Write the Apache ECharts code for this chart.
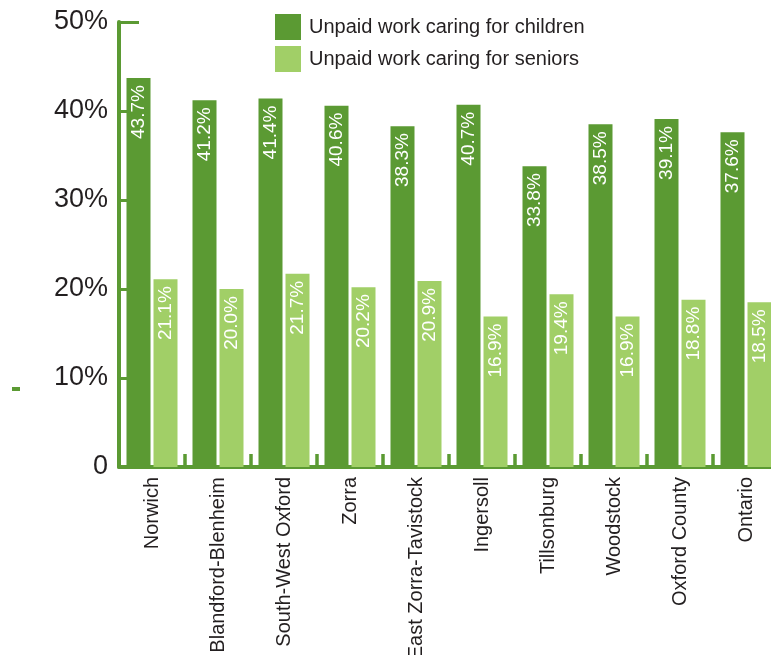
<!DOCTYPE html>
<html>
<head>
<meta charset="utf-8">
<script src="https://cdn.jsdelivr.net/npm/echarts@6/dist/echarts.min.js"></script>
<style>
html,body{margin:0;padding:0;background:#fff;}
#chart{width:771px;height:655px;}
</style>
</head>
<body>
<div id="chart"></div>
<script>
var categories = ['Norwich','Blandford-Blenheim','South-West Oxford','Zorra','East Zorra-Tavistock','Ingersoll','Tillsonburg','Woodstock','Oxford County','Ontario'];
var childrenValues = [43.7, 41.2, 41.4, 40.6, 38.3, 40.7, 33.8, 38.5, 39.1, 37.6];
var seniorsValues = [21.1, 20.0, 21.7, 20.2, 20.9, 16.9, 19.4, 16.9, 18.8, 18.5];
var seriesNames = ['Unpaid work caring for children', 'Unpaid work caring for seniors'];

var DARK = '#5b9a33';
var LIGHT = '#a1cf67';
var AXIS = '#5b9a33';
var TEXT = '#231f20';
var FONT = '"Liberation Sans", Arial, sans-serif';

var chart = echarts.init(document.getElementById('chart'), null, {renderer: 'canvas'});

function barLabel() {
  return {
    show: true,
    position: 'insideTop',
    distance: 7,
    rotate: 90,
    align: 'right',
    verticalAlign: 'middle',
    color: '#ffffff',
    fontSize: 19,
    fontFamily: FONT,
    formatter: function (p) { return p.value.toFixed(1) + '%'; }
  };
}

var option = {
  animation: false,
  backgroundColor: '#ffffff',
  textStyle: {fontFamily: FONT},
  legend: {
    orient: 'vertical',
    left: 275,
    top: 14,
    padding: 0,
    itemWidth: 26,
    itemHeight: 26,
    itemGap: 6,
    icon: 'rect',
    data: seriesNames,
    textStyle: {fontSize: 20, color: TEXT, fontFamily: FONT, padding: [0, 0, 0, 3]}
  },
  grid: {left: 119, right: -8, top: 22, bottom: 188, containLabel: false, outerBoundsMode: 'none'},
  xAxis: {
    type: 'category',
    data: categories,
    boundaryGap: true,
    axisLine: {show: true, lineStyle: {color: AXIS, width: 4}},
    axisTick: {show: true, inside: true, length: 13, lineStyle: {color: AXIS, width: 3.5}},
    axisLabel: {
      rotate: 90, margin: 10, fontSize: 20, color: TEXT, fontFamily: FONT, interval: 0
    },
    splitLine: {show: false}
  },
  yAxis: [{
    type: 'value',
    min: 0, max: 50, interval: 10,
    axisLine: {show: true, lineStyle: {color: AXIS, width: 4}},
    axisTick: {show: true, inside: true, length: 8, lineStyle: {color: AXIS, width: 3}},
    axisLabel: {
      margin: 11, fontSize: 27, color: TEXT, fontFamily: FONT,
      formatter: function (v) { return v === 0 ? '0' : v + '%'; }
    },
    splitLine: {show: false}
  }, {
    type: 'value',
    position: 'left',
    min: 0, max: 50, interval: 50,
    axisLine: {show: false},
    axisTick: {show: true, inside: true, length: 20, lineStyle: {color: AXIS, width: 3}},
    axisLabel: {show: false},
    splitLine: {show: false}
  }],
  series: [{
    name: seriesNames[0],
    type: 'bar',
    data: childrenValues,
    barWidth: 24,
    barGap: '12.5%',
    itemStyle: {color: DARK},
    label: barLabel()
  }, {
    name: seriesNames[1],
    type: 'bar',
    data: seniorsValues,
    barWidth: 24,
    barGap: '12.5%',
    itemStyle: {color: LIGHT},
    label: barLabel()
  }],
  graphic: [{
    type: 'rect',
    left: 12, top: 387,
    shape: {width: 8, height: 4},
    style: {fill: AXIS}
  }]
};
chart.setOption(option);
</script>
</body>
</html>
